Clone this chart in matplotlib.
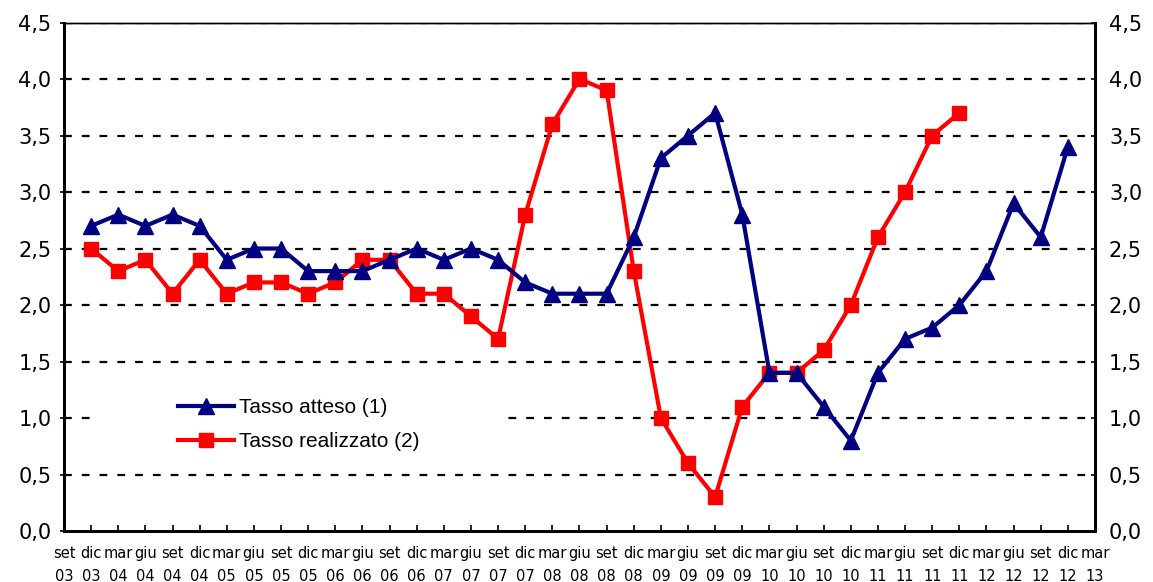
import numpy as np
import matplotlib
matplotlib.use("Agg")
import matplotlib.pyplot as plt
from matplotlib.patches import Rectangle

# quarterly categories, set 03 .. mar 13
months = ["set", "dic", "mar", "giu"]
years = ["03", "03", "04", "04", "04", "04", "05", "05", "05", "05",
         "06", "06", "06", "06", "07", "07", "07", "07", "08", "08",
         "08", "08", "09", "09", "09", "09", "10", "10", "10", "10",
         "11", "11", "11", "11", "12", "12", "12", "12", "13"]
labels = [months[i % 4] + "\n" + years[i] for i in range(len(years))]

# Tasso atteso (1): dic 03 .. dic 12
atteso = [2.7, 2.8, 2.7, 2.8, 2.7, 2.4, 2.5, 2.5, 2.3, 2.3,
          2.3, 2.4, 2.5, 2.4, 2.5, 2.4, 2.2, 2.1, 2.1, 2.1,
          2.6, 3.3, 3.5, 3.7, 2.8, 1.4, 1.4, 1.1, 0.8, 1.4,
          1.7, 1.8, 2.0, 2.3, 2.9, 2.6, 3.4]
# Tasso realizzato (2): dic 03 .. dic 11
realizzato = [2.5, 2.3, 2.4, 2.1, 2.4, 2.1, 2.2, 2.2, 2.1, 2.2,
              2.4, 2.4, 2.1, 2.1, 1.9, 1.7, 2.8, 3.6, 4.0, 3.9,
              2.3, 1.0, 0.6, 0.3, 1.1, 1.4, 1.4, 1.6, 2.0, 2.6,
              3.0, 3.5, 3.7]

yticks = [0.0, 0.5, 1.0, 1.5, 2.0, 2.5, 3.0, 3.5, 4.0, 4.5]
ytick_labels = [f"{v:.1f}".replace(".", ",") for v in yticks]

fig = plt.figure(figsize=(11.53, 5.82), dpi=100)
ax = fig.add_axes([0.0555, 0.0876, 0.8942, 0.8737])

x_att = np.arange(1, 1 + len(atteso))
x_real = np.arange(1, 1 + len(realizzato))

# grid
for v in yticks[1:]:
    ax.axhline(v, color="black", lw=1.6, ls=(0, (3.5, 4.5)), zorder=1)

# white box behind the legend (hides the gridline, as in the original)
ax.add_patch(Rectangle((0.032, 0.12), 0.396, 0.19, transform=ax.transAxes,
                       facecolor="white", edgecolor="none", zorder=2))

ax.plot(x_real, realizzato, color="#ff0000", lw=3, marker="s", ms=10.5,
        label="Tasso realizzato (2)", zorder=3)
ax.plot(x_att, atteso, color="#000080", lw=3, marker="^", ms=11.5,
        label="Tasso atteso (1)", zorder=4)

ax.set_xlim(0, len(labels) - 1)
ax.set_ylim(0, 4.5)
ax.set_xticks(range(len(labels)))
ax.set_xticklabels(labels, fontsize=10.5, linespacing=1.62, family="DejaVu Sans")
ax.tick_params(axis="x", direction="in", length=4, width=1.2, pad=11)
ax.set_yticks(yticks)
ax.set_yticklabels(ytick_labels, fontsize=15, family="DejaVu Sans")
ax.tick_params(axis="y", direction="out", length=3, width=1.2, pad=6)

for side in ["left", "right", "bottom"]:
    ax.spines[side].set_linewidth(2)
ax.spines["top"].set_linewidth(1)

ax2 = ax.twinx()
ax2.set_ylim(0, 4.5)
ax2.set_yticks(yticks)
ax2.set_yticklabels(ytick_labels, fontsize=15, family="DejaVu Sans")
ax2.tick_params(axis="y", direction="in", length=3, width=1.2, pad=10)
for side in ["left", "right", "bottom"]:
    ax2.spines[side].set_linewidth(2)
ax2.spines["top"].set_linewidth(1)

handles, names = ax.get_legend_handles_labels()
leg = ax.legend(handles[::-1], names[::-1], loc="center left",
                bbox_to_anchor=(0.100, 0.209), frameon=False, numpoints=1,
                handlelength=2.7, handletextpad=0.25, labelspacing=0.7,
                borderpad=0, prop={"family": "Liberation Sans", "size": 15})

fig.savefig("out.png", dpi=100)
